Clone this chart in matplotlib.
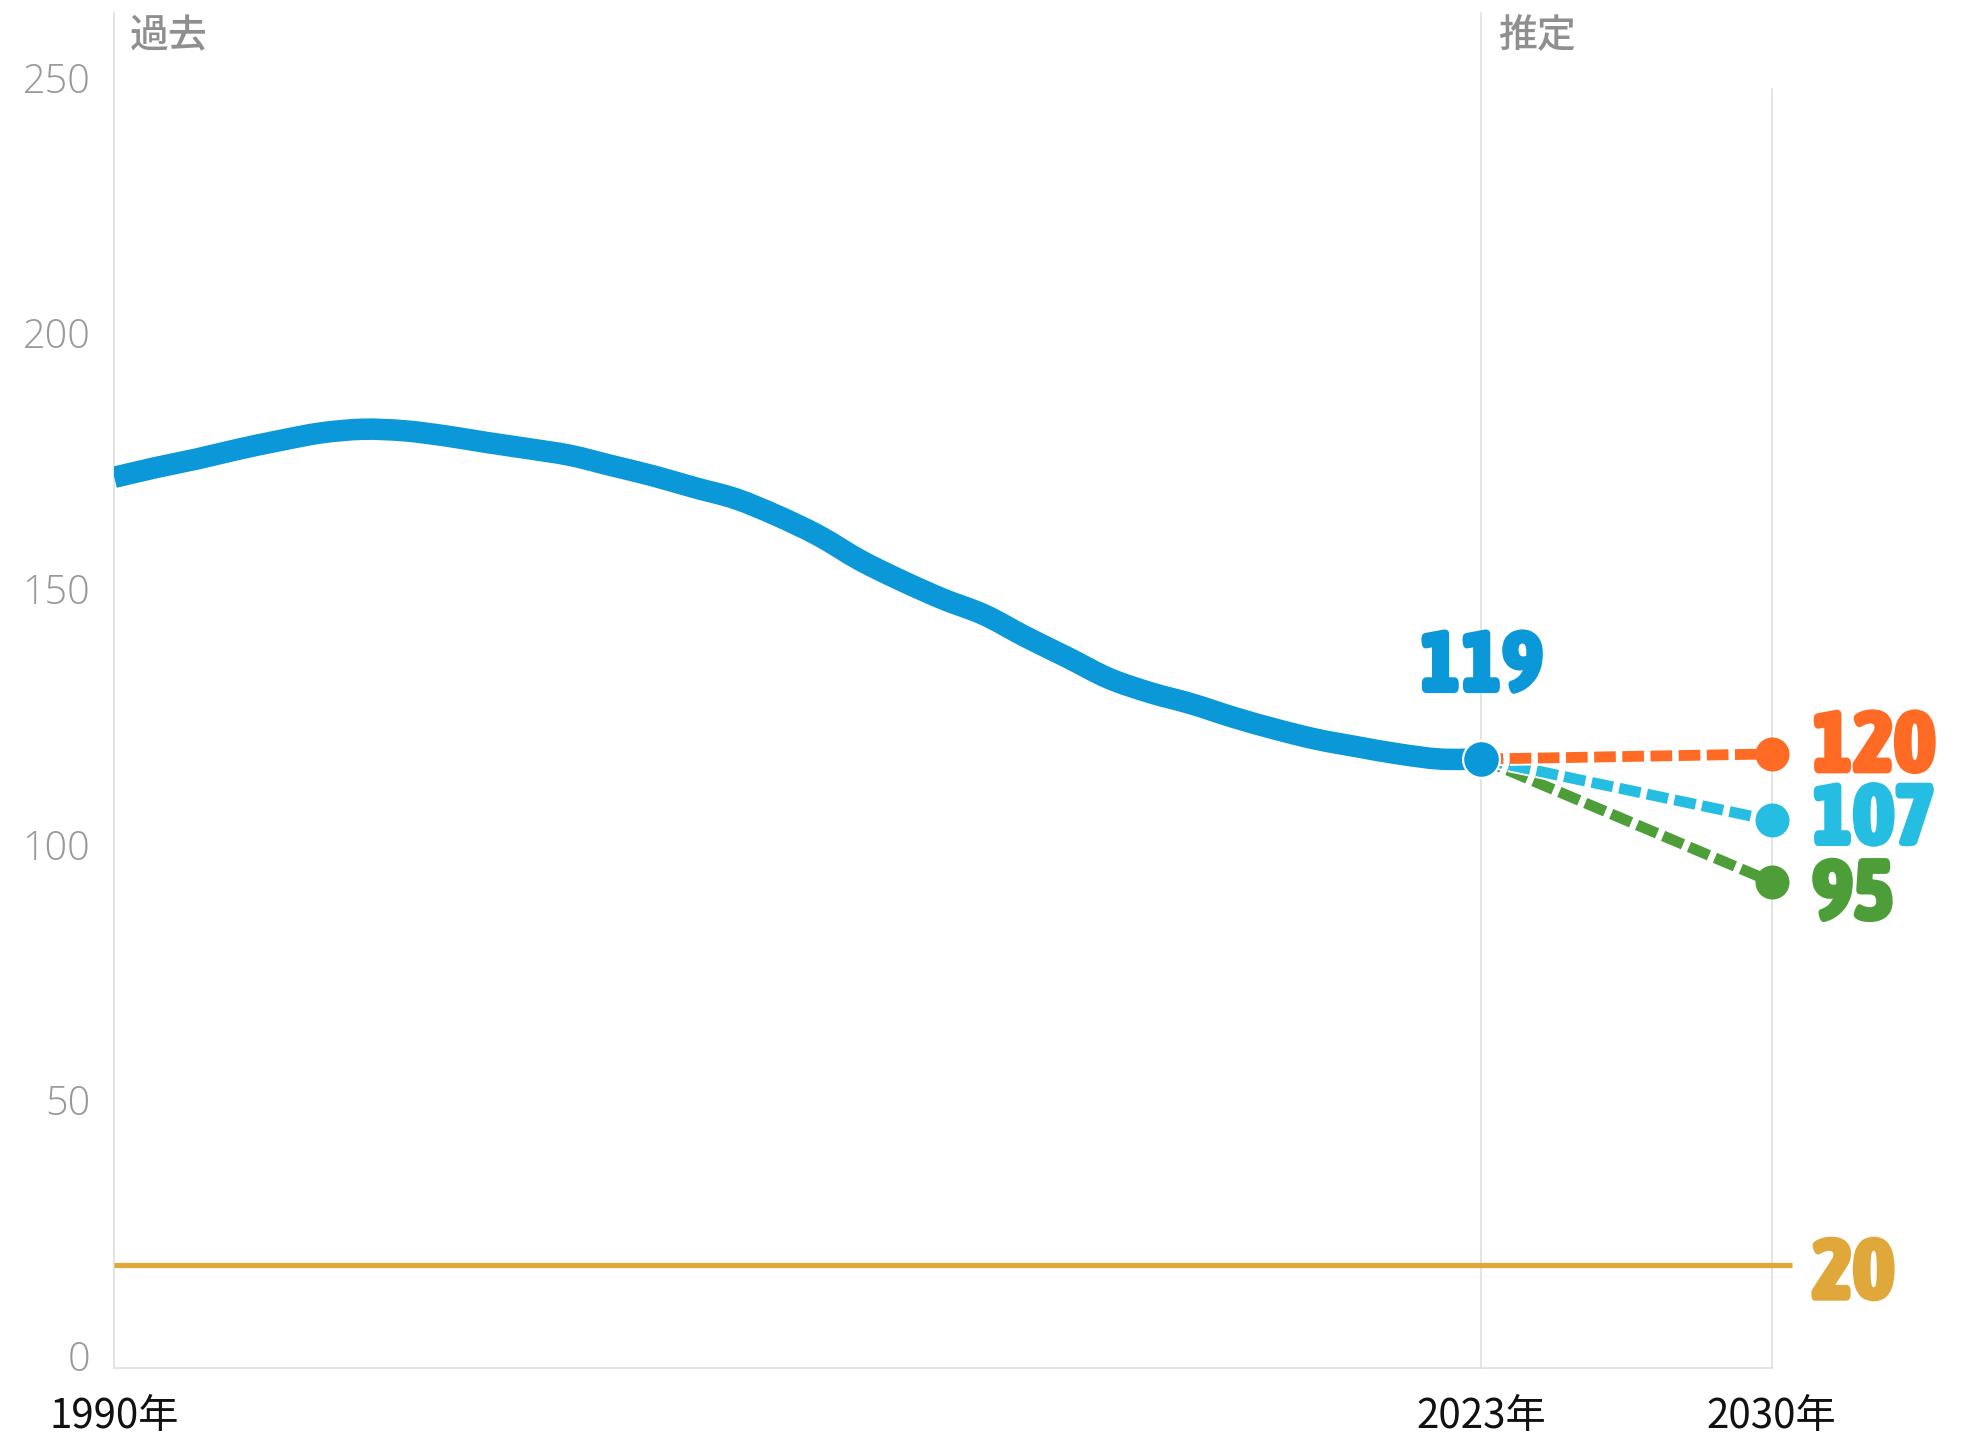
import matplotlib
matplotlib.use("Agg")
import matplotlib.pyplot as plt
from matplotlib.transforms import ScaledTranslation
from matplotlib.path import Path
from matplotlib.patches import PathPatch
from matplotlib import font_manager as fm
import matplotlib.patheffects as pe

# ---------------- data ----------------
years = list(range(1990, 2024))
history = [174.1, 176.0, 177.7, 179.6, 181.3, 182.8, 183.5, 183.2, 182.2, 180.9,
           179.7, 178.4, 176.4, 174.4, 172.1, 169.9, 166.6, 162.7, 157.9, 153.9,
           150.3, 147.2, 142.9, 138.9, 134.8, 132.0, 129.8, 127.2, 124.9, 122.9,
           121.4, 120.0, 119.0, 119.0]
proj_years = [2023, 2030]
proj_high = [119, 120]
proj_mid = [119, 107]
proj_low = [119, 95]
target = 20
yticks = [0, 50, 100, 150, 200, 250]
xticks = [1990, 2023, 2030]
xtick_labels = ["1990年", "2023年", "2030年"]
label_past = "過去"
label_future = "推定"

# ---------------- style ----------------
BLUE = "#0a98d8"
ORANGE = "#ff6b24"
CYAN = "#26bde2"
GREEN = "#4d9e38"
GOLD = "#e0a83a"
GRID = "#dcdcdc"
GRAYTXT = "#999999"
CJK = ["Noto Sans CJK JP", "DejaVu Sans"]
TICKF = ["Open Sans", "DejaVu Sans"]


def pick_number_font():
    """Find a heavy condensed face among installed fonts."""
    best = None
    for f in fm.fontManager.ttflist:
        w = f.weight if isinstance(f.weight, int) else {"bold": 700, "heavy": 800, "black": 900,
                                                        "extra bold": 800, "semibold": 600}.get(str(f.weight).lower(), 400)
        narrow = ("narrow" in f.name.lower() or "condensed" in f.name.lower()
                  or "condensed" in str(f.stretch).lower())
        if narrow and w >= 700 and f.style == "normal":
            score = w
            if best is None or score > best[0]:
                best = (score, f.fname)
    if best is not None:
        return fm.FontProperties(fname=best[1])
    return fm.FontProperties(family=["Noto Sans CJK JP", "DejaVu Sans"], weight="black")


W, H, DPI = 1969, 1435, 100
fig = plt.figure(figsize=(W / DPI, H / DPI), dpi=DPI)
fig.patch.set_facecolor("white")

x0_px, y0_px = 114.3, 1367.5
px_per_year, px_per_unit = 41.43, 5.113
XMAX, YMAX = 2030.5, 265
ax = fig.add_axes([x0_px / W, (H - y0_px) / H,
                   (XMAX - 1990) * px_per_year / W, YMAX * px_per_unit / H])
ax.set_xlim(1990, XMAX)
ax.set_ylim(0, YMAX)
ax.axis("off")


def off(dx, dy):
    return ax.transData + ScaledTranslation(dx / DPI, dy / DPI, fig.dpi_scale_trans)


# grid / frame lines
ax.plot([1990, 1990], [0, YMAX], color=GRID, lw=1.1, zorder=1, clip_on=False)
ax.plot([2023, 2023], [0, YMAX], color=GRID, lw=1.1, zorder=1, clip_on=False)
ax.plot([2030, 2030], [0, 250], color=GRID, lw=1.1, zorder=1, clip_on=False)
ax.plot([1990, 2030], [0, 0], color=GRID, lw=1.1, zorder=1, clip_on=False)

# target line
ax.plot([1990, XMAX], [target, target], color=GOLD, lw=3.8, zorder=2,
        solid_capstyle="butt", clip_on=False)

# history: smooth curve through the read points (Catmull-Rom as cubic Bezier)
pts = list(zip(years, history))
verts = [pts[0]]
codes = [Path.MOVETO]
n = len(pts)
for i in range(n - 1):
    p0 = pts[max(i - 1, 0)]
    p1 = pts[i]
    p2 = pts[i + 1]
    p3 = pts[min(i + 2, n - 1)]
    c1 = (p1[0] + (p2[0] - p0[0]) / 6, p1[1] + (p2[1] - p0[1]) / 6)
    c2 = (p2[0] - (p3[0] - p1[0]) / 6, p2[1] - (p3[1] - p1[1]) / 6)
    verts += [c1, c2, p2]
    codes += [Path.CURVE4] * 3
ax.add_patch(PathPatch(Path(verts, codes), fill=False, edgecolor=BLUE, lw=15.5,
                       capstyle="butt", joinstyle="round", zorder=3))

# projections
white_edge = [pe.withStroke(linewidth=10.5, foreground="white")]
for vals, col, z in [(proj_low, GREEN, 4), (proj_mid, CYAN, 5), (proj_high, ORANGE, 6)]:
    ln, = ax.plot(proj_years, vals, color=col, lw=7.8, zorder=z,
                  dashes=(2.0, 0.6), dash_capstyle="butt", clip_on=False)
    ln.set_path_effects(white_edge)
    ax.plot([proj_years[1]], [vals[1]], "o", color=col, ms=24.5, mew=0,
            zorder=z + 3, clip_on=False)

ax.plot([2023], [history[-1]], "o", color=BLUE, ms=26.5, mec="white", mew=1.6,
        zorder=10, clip_on=False)

# y tick labels
for v in yticks:
    ax.text(1990, v, str(v), transform=off(-24, -3.5), ha="right", va="baseline",
            fontsize=28.5, color=GRAYTXT, family=TICKF, fontweight="light")

# x tick labels
for x, lab in zip(xticks, xtick_labels):
    ax.text(x, 0, lab, transform=off(0, -60.5), ha="center", va="baseline",
            fontsize=29, color="#111111", family=CJK)

# section labels
ax.text(1990, YMAX, label_past, transform=off(15, -35), ha="left", va="baseline",
        fontsize=28, color="#8f8f8f", family=CJK, fontweight="medium")
ax.text(2023, YMAX, label_future, transform=off(16.5, -35), ha="left", va="baseline",
        fontsize=28, color="#8f8f8f", family=CJK, fontweight="medium")

# value labels
numfp = pick_number_font()
numfp.set_size(63)
bold_fx = lambda c: [pe.withStroke(linewidth=1.5, foreground=c)]
t = ax.text(2023, history[-1], "119", transform=off(0, 67), ha="center", va="baseline",
            fontproperties=numfp, color=BLUE)
t.set_path_effects(bold_fx(BLUE))
for val, col, dy in [(proj_high[1], ORANGE, -18.4), (proj_mid[1], CYAN, -24.6),
                     (proj_low[1], GREEN, -38.6), (target, GOLD, -34.4)]:
    t = ax.text(2030, val, str(val), transform=off(40.5, dy), ha="left", va="baseline",
                fontproperties=numfp, color=col)
    t.set_path_effects(bold_fx(col))

fig.savefig("out.png", dpi=DPI, facecolor="white")
